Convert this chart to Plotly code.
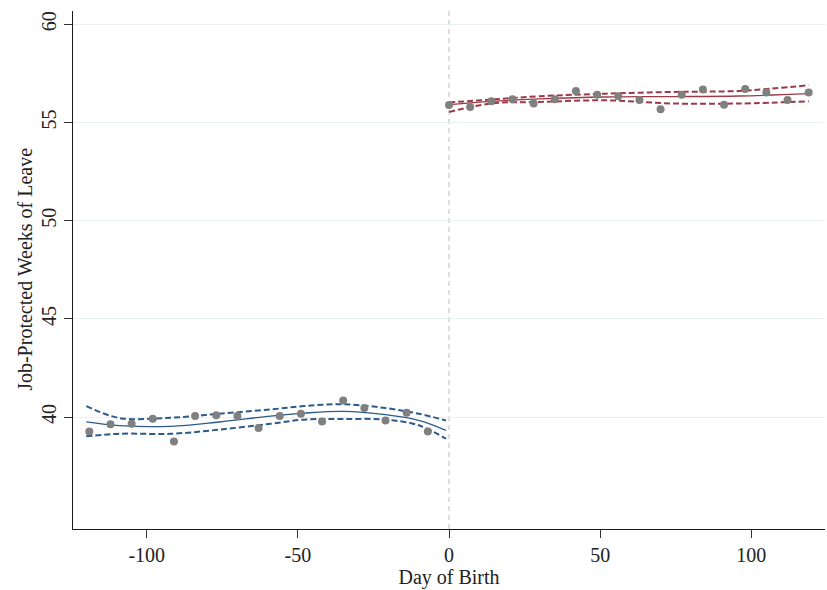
import plotly.graph_objects as go

# Binned means (left and right of cutoff)
left_x = [-119, -112, -105, -98, -91, -84, -77, -70, -63, -56, -49, -42, -35, -28, -21, -14, -7]
left_y = [39.27, 39.64, 39.66, 39.92, 38.75, 40.05, 40.09, 40.05, 39.44, 40.05, 40.17, 39.78,
          40.84, 40.46, 39.83, 40.22, 39.27]
right_x = [0, 7, 14, 21, 28, 35, 42, 49, 56, 63, 70, 77, 84, 91, 98, 105, 112, 119]
right_y = [55.89, 55.79, 56.08, 56.18, 55.97, 56.18, 56.61, 56.42, 56.34, 56.15, 55.68, 56.42,
           56.68, 55.91, 56.71, 56.53, 56.15, 56.53]

# Fitted polynomial and confidence bands
lfit_x = [-120, -109, -92, -76, -59, -48, -35, -21, -10, -1]
lfit_y = [39.75, 39.56, 39.53, 39.75, 40.05, 40.20, 40.29, 40.12, 39.83, 39.32]
lhi_y = [40.56, 39.95, 39.97, 40.17, 40.39, 40.56, 40.65, 40.46, 40.17, 39.83]
llo_y = [39.02, 39.15, 39.15, 39.36, 39.66, 39.87, 39.90, 39.87, 39.58, 38.90]

rfit_x = [0, 14, 30, 52, 74, 96, 119]
rfit_y = [55.91, 56.08, 56.20, 56.30, 56.32, 56.35, 56.47]
rhi_y = [56.02, 56.17, 56.34, 56.47, 56.56, 56.61, 56.90]
rlo_y = [55.54, 55.97, 56.05, 56.13, 55.97, 55.97, 56.08]

x_ticks = [-100, -50, 0, 50, 100]
y_ticks = [40, 45, 50, 55, 60]

BLUE = "#2c5a8a"
RED = "#9b3a47"
GRAY = "#808080"
FONT = "Liberation Serif"

fig = go.Figure()

def add_fit(x, y, color, dash, width):
    fig.add_trace(go.Scatter(x=x, y=y, mode="lines", line=dict(color=color, width=width, dash=dash, shape="spline"),
                             showlegend=False, hoverinfo="skip"))

add_fit(lfit_x, lhi_y, BLUE, "6px,3px", 2)
add_fit(lfit_x, llo_y, BLUE, "6px,3px", 2)
add_fit(lfit_x, lfit_y, BLUE, "solid", 1.3)
add_fit(rfit_x, rhi_y, RED, "6px,3px", 2)
add_fit(rfit_x, rlo_y, RED, "6px,3px", 2)
add_fit(rfit_x, rfit_y, RED, "solid", 1.3)

fig.add_trace(go.Scatter(x=left_x, y=left_y, mode="markers", marker=dict(color=GRAY, size=8), showlegend=False))
fig.add_trace(go.Scatter(x=right_x, y=right_y, mode="markers", marker=dict(color=GRAY, size=8), showlegend=False))

fig.add_shape(type="line", x0=0, x1=0, y0=0, y1=1, xref="x", yref="paper",
              line=dict(color="#c8c8c8", width=1.2, dash="5px,4px"), layer="below")

fig.add_annotation(text="Job-Protected Weeks of Leave", xref="paper", yref="paper",
                   x=-0.064, y=0.502, xanchor="center", yanchor="middle", textangle=-90,
                   showarrow=False, font=dict(family=FONT, size=20, color="#222222"))

fig.update_layout(
    width=827, height=590,
    margin=dict(l=73, r=2, t=11, b=61),
    paper_bgcolor="white", plot_bgcolor="white",
    font=dict(family=FONT, size=20, color="#222222"),
    showlegend=False,
)
fig.update_xaxes(
    range=[-124.4, 124.4], tickvals=x_ticks, ticktext=[str(v) for v in x_ticks],
    showgrid=False, zeroline=False, showline=True, linecolor="#1a1a1a", linewidth=1.3,
    ticks="outside", ticklen=8, tickwidth=1.3, tickcolor="#333333", automargin=False,
    title=dict(text="Day of Birth", font=dict(family=FONT, size=20), standoff=0),
)
fig.update_yaxes(
    range=[34.3, 60.68], tickvals=y_ticks, ticktext=[str(v) for v in y_ticks], tickangle=-90,
    showgrid=True, gridcolor="#e9f0f2", gridwidth=1.2, zeroline=False,
    showline=True, linecolor="#1a1a1a", linewidth=1.3, automargin=False,
    ticks="outside", ticklen=8, tickwidth=1.3, tickcolor="#333333",
)

fig.write_html("out.html", config={"displayModeBar": False},
               post_script="document.body.style.margin='0px';")
